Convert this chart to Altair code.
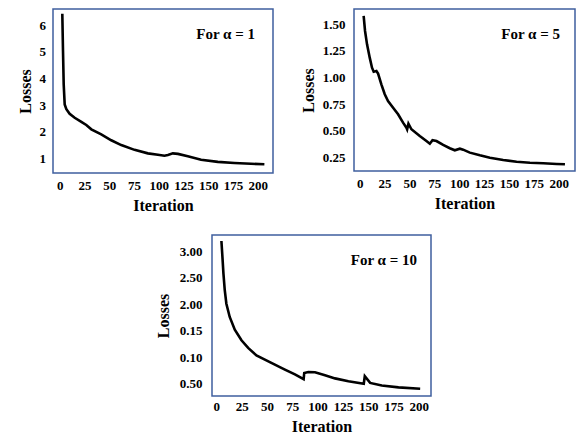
import json
import altair as alt
import pandas as pd

# ---- data ----
p1_iter = [2.7, 3.4, 4.1, 5.1, 6.8, 10.1, 15.2, 21.9, 26.9, 32, 42, 52.1, 62.2, 75.6, 89.1,
           99.2, 105.8, 109.3, 114.3, 119.4, 129.4, 142.8, 159.7, 176.4, 193.2, 206.7]
p1_loss = [6.42, 5.03, 3.78, 3.03, 2.85, 2.68, 2.53, 2.38, 2.26, 2.10, 1.91, 1.69, 1.51, 1.33,
           1.20, 1.15, 1.11, 1.14, 1.20, 1.18, 1.09, 0.96, 0.88, 0.84, 0.81, 0.79]

p2_iter = [4.0, 5.4, 7.4, 10.1, 12.4, 14.1, 16.8, 18.5, 21.8, 25.2, 28.5, 33.6, 38.6, 43.6,
           47.0, 47.7, 49.0, 52.0, 60.4, 67.1, 70.5, 73.2, 77.2, 83.9, 90.6, 95.6, 100.7,
           104.0, 110.7, 120.8, 130.9, 144.2, 157.7, 171.1, 184.5, 198.0, 206.3]
p2_loss = [1.578, 1.437, 1.312, 1.187, 1.093, 1.056, 1.062, 1.037, 0.937, 0.844, 0.781, 0.718,
           0.656, 0.578, 0.531, 0.516, 0.568, 0.516, 0.453, 0.406, 0.381, 0.413, 0.406, 0.369,
           0.338, 0.319, 0.334, 0.325, 0.297, 0.272, 0.250, 0.228, 0.212, 0.203, 0.197, 0.191,
           0.188]

# third panel: values expressed in tick-slot units of its (irregular) axis labels
p3_iter = [5.0, 6.0, 7.0, 8.3, 9.9, 13.2, 18.2, 24.8, 31.4, 39.6, 47.9, 57.8, 67.7, 77.6,
           86.2, 86.8, 90.8, 97.4, 107.3, 117.2, 130.4, 145.6, 146.6, 151.9, 163.4, 179.9, 201.3]
p3_pos = [5.39, 4.79, 4.16, 3.53, 3.02, 2.52, 2.04, 1.64, 1.35, 1.07, 0.91, 0.72, 0.53, 0.35,
          0.17, 0.40, 0.44, 0.43, 0.32, 0.20, 0.09, 0.00, 0.28, 0.03, -0.07, -0.14, -0.19]
p3_tick_labels = ["0.50", "0.10", "0.15", "2.00", "2.50", "3.00"]

x_ticks = [0, 25, 50, 75, 100, 125, 150, 175, 200]
titles = ["For \u03b1 = 1", "For \u03b1 = 5", "For \u03b1 = 10"]

FONT = "Liberation Serif"
FRAME = alt.ViewBackground(stroke="#3F5F9E", strokeWidth=1.5)


def panel(xs, ys, title, width, height, xdom, ydom, yaxis, title_xy, xlabpad=6):
    df = pd.DataFrame({"Iteration": xs, "Losses": ys, "i": list(range(len(xs)))})
    line = alt.Chart(df).mark_line(color="black", strokeWidth=2.6, clip=True).encode(
        x=alt.X("Iteration:Q",
                scale=alt.Scale(domain=xdom, nice=False, zero=False),
                axis=alt.Axis(values=x_ticks, title="Iteration", labelPadding=xlabpad,
                              titlePadding=5)),
        y=alt.Y("Losses:Q", scale=alt.Scale(domain=ydom, nice=False, zero=False),
                axis=yaxis),
        order="i:Q",
    )
    txt = alt.Chart(pd.DataFrame({"t": [title]})).mark_text(
        font=FONT, fontWeight="bold", fontSize=15, align="right", baseline="alphabetic",
        color="black",
    ).encode(text="t:N", x=alt.value(title_xy[0]), y=alt.value(title_xy[1]))
    return alt.layer(line, txt).properties(width=width, height=height, view=FRAME)


ax1 = alt.Axis(values=[1, 2, 3, 4, 5, 6], format="d", title="Losses", labelPadding=7.5,
               titlePadding=6)
ax2 = alt.Axis(values=[0.25, 0.5, 0.75, 1.0, 1.25, 1.5], format=".2f", title="Losses",
               labelPadding=9, titlePadding=6)
ax3 = alt.Axis(values=list(range(len(p3_tick_labels))), title="Losses",
               labelExpr=json.dumps(p3_tick_labels) + "[datum.value]",
               labelPadding=10, titlePadding=8)

c1 = panel(p1_iter, p1_loss, titles[0], 220, 164, [-6.7, 215.4], [0.465, 6.6], ax1, (202, 30))
c2 = panel(p2_iter, p2_loss, titles[1], 221, 162, [-5.7, 216.4], [0.125, 1.643], ax2, (206, 30))
c3 = panel(p3_iter, p3_pos, titles[2], 219, 161, [-4.3, 212], [-0.465, 5.616], ax3, (205, 30),
           xlabpad=4)

spacer = alt.Chart(pd.DataFrame({"a": [0]})).mark_point(opacity=0).properties(
    width=101, height=1, view=alt.ViewBackground(stroke=None)
)

chart = alt.vconcat(
    alt.hconcat(c1, c2, spacing=25),
    alt.hconcat(spacer, c3, spacing=0),
    spacing=18,
).properties(
    padding={"left": 8, "top": 0, "right": 0, "bottom": 0}
).configure_axis(
    domain=False, ticks=False, grid=False,
    labelFont=FONT, labelFontWeight="bold", labelFontSize=13, labelColor="black",
    titleFont=FONT, titleFontWeight="bold", titleFontSize=16, titleColor="black",
)

chart.save("out.html", embed_options={"renderer": "svg", "actions": False})
